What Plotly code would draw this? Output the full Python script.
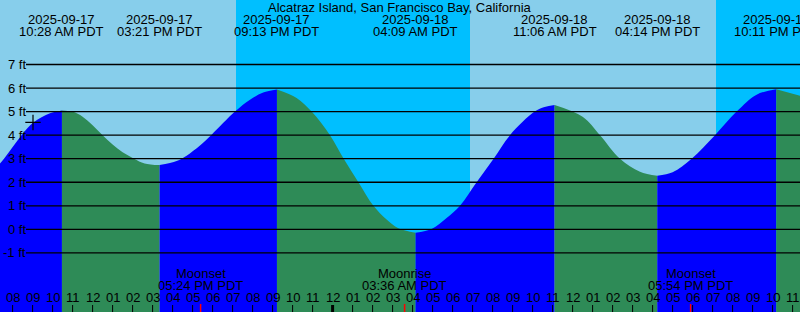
import plotly.graph_objects as go

# ---------------- data (hours since 2025-09-17 00:00 PDT, heights in ft) ----------------
tide_hours = [7.30, 7.57, 8.45, 9.04, 9.87, 10.467,
              11.0, 11.5, 12.0, 12.5, 13.0, 13.5, 14.07, 14.6, 15.35,
              16.2, 16.7, 17.37, 17.95, 19.12, 19.87, 20.53, 21.217,
              22.2, 22.95, 23.87, 24.54, 25.29, 26.04, 26.7, 27.29, 28.15,
              28.95, 29.7, 30.37, 31.2, 32.05, 32.87, 34.1, 34.6, 35.1,
              36.5, 37.37, 38.37, 39.37, 40.233,
              41.0, 41.95, 43.12, 44.2, 45.2, 46.183,
              47.45]
tide_ft = [2.73, 3.0, 4.0, 4.54, 4.93, 5.05,
           5.0, 4.78, 4.42, 4.0, 3.6, 3.27, 3.0, 2.8, 2.73,
           2.9, 3.13, 3.56, 4.02, 5.0, 5.5, 5.81, 5.94,
           5.58, 5.0, 4.0, 3.02, 2.0, 1.0, 0.42, 0.05, -0.14,
           0.02, 0.48, 1.0, 2.0, 3.0, 4.0, 5.0, 5.2, 5.28,
           4.78, 4.0, 3.0, 2.45, 2.28,
           2.42, 3.0, 4.0, 5.0, 5.72, 5.95,
           5.66]

ext_hours = [10.467, 15.35, 21.217, 28.15, 35.1, 40.233, 46.183]
ext_dates = ["2025-09-17", "2025-09-17", "2025-09-17", "2025-09-18",
             "2025-09-18", "2025-09-18", "2025-09-18"]
ext_times = ["10:28 AM PDT", "03:21 PM PDT", "09:13 PM PDT", "04:09 AM PDT",
             "11:06 AM PDT", "04:14 PM PDT", "10:11 PM PDT"]

night_start = [19.17, 43.17]
night_end = [30.87, 48.0]

moon_hours = [17.4, 27.6, 41.9]
moon_names = ["Moonset", "Moonrise", "Moonset"]
moon_times = ["05:24 PM PDT", "03:36 AM PDT", "05:54 PM PDT"]

hour_ticks = list(range(8, 48))
hour_labels = ["08", "09", "10", "11", "12", "01", "02", "03", "04", "05", "06", "07",
               "08", "09", "10", "11", "12", "01", "02", "03", "04", "05", "06", "07",
               "08", "09", "10", "11", "12", "01", "02", "03", "04", "05", "06", "07",
               "08", "09", "10", "11"]
midnight_hours = [24]

ft_levels = [7, 6, 5, 4, 3, 2, 1, 0, -1]
ft_labels = ["7 ft", "6 ft", "5 ft", "4 ft", "3 ft", "2 ft", "1 ft", "0 ft", "-1 ft"]

now_hour = [9.02]
now_ft = [4.54]

title = "Alcatraz Island, San Francisco Bay, California"

# ---------------- style ----------------
W, H = 800, 312
X_MIN, X_MAX = 7.37, 47.37
Y_MIN, Y_MAX = -3.51, 9.74
DAY = "#87CEEB"
NIGHT = "#00BFFF"
RISE = "#0000FF"
FALL = "#2E8B57"
FONT = dict(family="Liberation Sans, Arial, sans-serif", size=13, color="black")


def py(pix):
    """pixel row -> paper y"""
    return 1 - pix / H


fig = go.Figure()

# tide fill, split at extremes (rising = blue, falling = green)
cuts = [0] + [tide_hours.index(h) for h in ext_hours] + [len(tide_hours) - 1]
for a, b in zip(cuts[:-1], cuts[1:]):
    if b <= a:
        continue
    xs = tide_hours[a:b + 1]
    ys = tide_ft[a:b + 1]
    color = RISE if ys[-1] > ys[0] else FALL
    fig.add_trace(go.Scatter(x=[xs[0], xs[-1]], y=[Y_MIN - 1, Y_MIN - 1], mode="lines",
                             line=dict(width=0, color=color), hoverinfo="skip",
                             showlegend=False))
    fig.add_trace(go.Scatter(x=xs, y=ys, mode="lines",
                             line=dict(width=0, color=color, shape="spline", smoothing=1),
                             fill="tonexty", fillcolor=color, hoverinfo="skip",
                             showlegend=False))

# current-time marker
fig.add_trace(go.Scatter(x=now_hour, y=now_ft, mode="markers",
                         marker=dict(symbol="cross-thin", size=11,
                                     line=dict(width=1.2, color="black")),
                         hoverinfo="skip", showlegend=False))

shapes = []
# night bands
for s, e in zip(night_start, night_end):
    shapes.append(dict(type="rect", xref="x", yref="paper", x0=s, x1=e, y0=0, y1=1,
                       fillcolor=NIGHT, line=dict(width=0), layer="below"))
# horizontal foot lines
for lv in ft_levels:
    shapes.append(dict(type="line", xref="paper", yref="y", x0=26 / W, x1=1, y0=lv, y1=lv,
                       line=dict(color="black", width=1.3), layer="above"))
# hour ticks
for h in hour_ticks:
    wdt = 3 if h in midnight_hours else 1
    shapes.append(dict(type="line", xref="x", yref="paper", x0=h, x1=h,
                       y0=0, y1=py(305), line=dict(color="black", width=wdt), layer="above"))
# moon ticks
for h in moon_hours:
    shapes.append(dict(type="line", xref="x", yref="paper", x0=h, x1=h,
                       y0=0, y1=py(304), line=dict(color="red", width=1.5), layer="above"))

ann = []


def add_text(text, x, y, xref="x", yref="paper", xanchor="center"):
    ann.append(dict(text=text, x=x, y=y, xref=xref, yref=yref, xanchor=xanchor,
                    yanchor="middle", showarrow=False, font=FONT,
                    borderpad=0, borderwidth=0))


add_text(title, 0.5, py(7.5), xref="paper")
for h, d, t in zip(ext_hours, ext_dates, ext_times):
    add_text(d, h, py(19.5))
    add_text(t, h, py(31.5))
for h, n, t in zip(moon_hours, moon_names, moon_times):
    add_text(n, h, py(273))
    add_text(t, h, py(285.5))
for h, lab in zip(hour_ticks, hour_labels):
    add_text(lab, h, py(297.5))
for lv, lab in zip(ft_levels, ft_labels):
    ann.append(dict(text=lab, x=25.5 / W, y=lv, xref="paper", yref="y", xanchor="right",
                    yanchor="middle", showarrow=False, font=FONT, borderpad=0,
                    borderwidth=0))

fig.update_layout(
    width=W, height=H,
    margin=dict(l=0, r=0, t=0, b=0),
    paper_bgcolor=DAY, plot_bgcolor=DAY,
    xaxis=dict(range=[X_MIN, X_MAX], visible=False, fixedrange=True),
    yaxis=dict(range=[Y_MIN, Y_MAX], visible=False, fixedrange=True),
    shapes=shapes, annotations=ann, showlegend=False,
)

fig.write_html("out.html", config={"displayModeBar": False})
